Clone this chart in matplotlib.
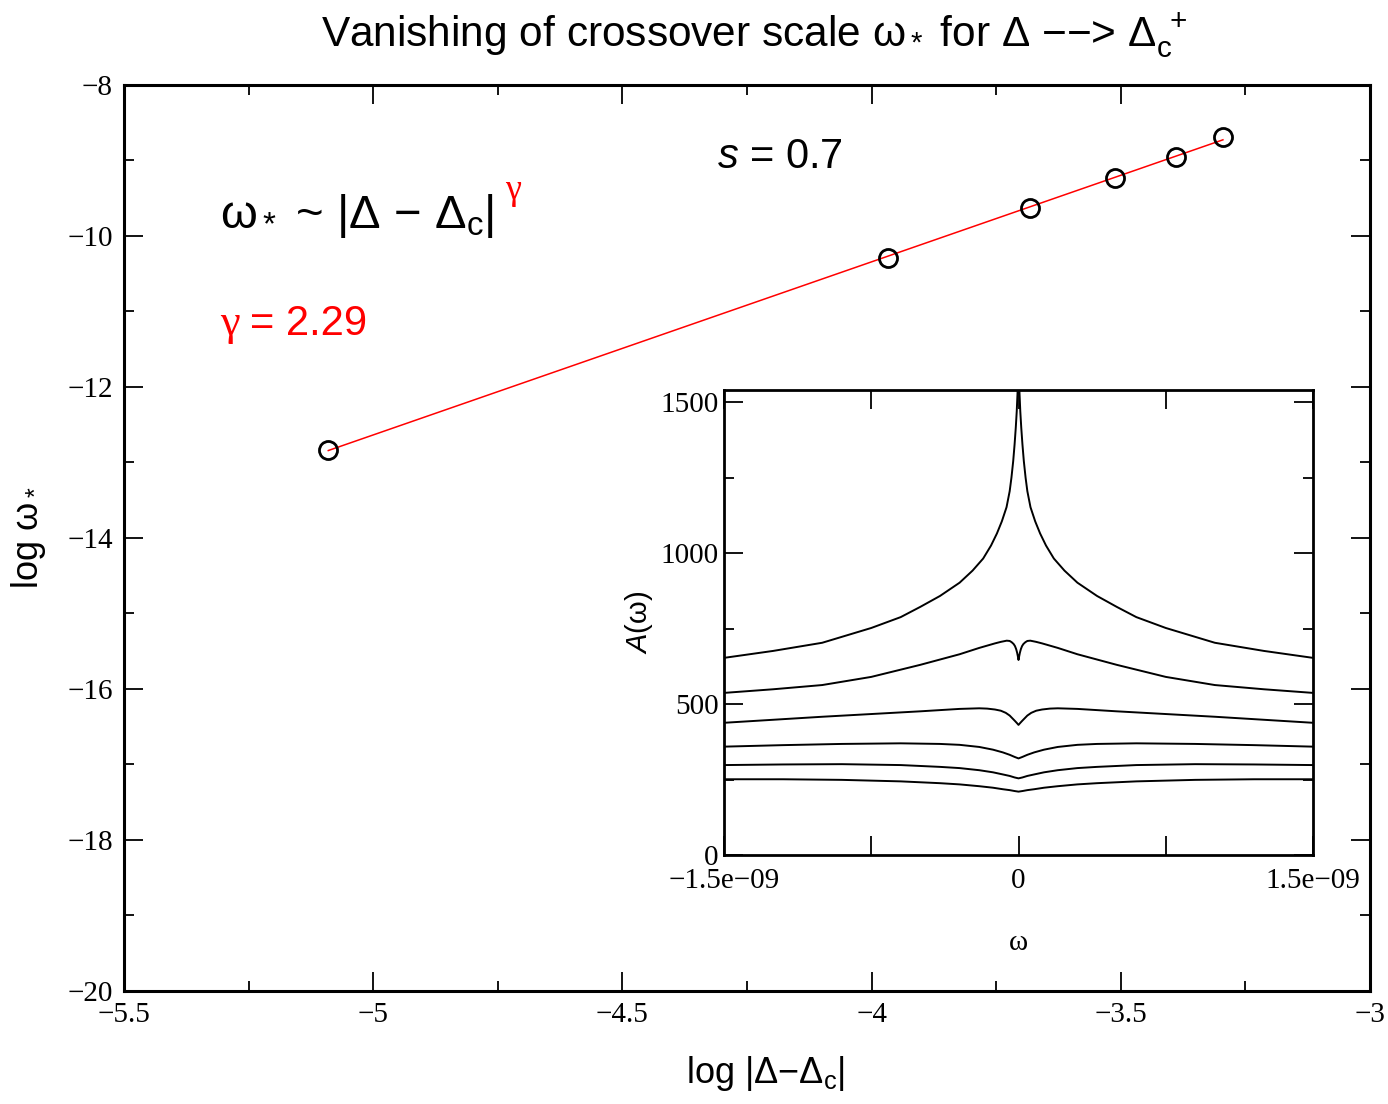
import numpy as np
import matplotlib.pyplot as plt
from matplotlib.ticker import MultipleLocator, FixedLocator

plt.rcParams['font.family'] = ['Liberation Sans', 'DejaVu Sans']
plt.rcParams['mathtext.fontset'] = 'custom'
plt.rcParams['mathtext.rm'] = 'Liberation Sans'
plt.rcParams['mathtext.it'] = 'Liberation Sans:italic'
plt.rcParams['mathtext.bf'] = 'Liberation Sans:bold'
plt.rcParams['axes.unicode_minus'] = True

# main panel: crossover scale vs distance from critical point
log_dd = [-5.09, -3.967, -3.682, -3.512, -3.389, -3.295]
log_wstar = [-12.83, -10.29, -9.63, -9.23, -8.95, -8.69]

x_ticks = [-5.5, -5, -4.5, -4, -3.5, -3]
x_ticklabels = ['\u22125.5', '\u22125', '\u22124.5', '\u22124', '\u22123.5', '\u22123']
y_ticks = [-20, -18, -16, -14, -12, -10, -8]
y_ticklabels = ['\u221220', '\u221218', '\u221216', '\u221214', '\u221212', '\u221210', '\u22128']

# inset: spectral functions A(w), left half (w in units of 1e-9), mirrored
w1 = [-1.5, -1.25, -1.0, -0.75, -0.6, -0.5, -0.4, -0.3, -0.234, -0.18, -0.14, -0.11, -0.085,
      -0.061, -0.045, -0.036, -0.027, -0.02, -0.014, -0.009, -0.005, -0.002, 0.0]
a1 = [653, 676, 703, 752, 788, 822, 858, 902, 942, 982, 1025, 1065, 1105,
      1152, 1205, 1250, 1305, 1360, 1415, 1470, 1530, 1600, 1700]
w2 = [-1.5, -1.25, -1.0, -0.75, -0.5, -0.3, -0.2, -0.12, -0.09, -0.06, -0.045, -0.035,
      -0.025, -0.018, -0.012, -0.007, -0.003, 0.0]
a2 = [537, 549, 563, 590, 630, 665, 686, 701, 706, 710, 709, 705,
      699, 692, 682, 670, 657, 646]
w3 = [-1.5, -1.25, -1.0, -0.75, -0.5, -0.3, -0.2, -0.16, -0.12, -0.09, -0.065, -0.045,
      -0.03, -0.018, -0.008, 0.0]
a3 = [438, 448, 458, 467, 476, 484, 486, 485, 482, 478, 471, 462,
      452, 444, 437, 431]
w4 = [-1.5, -1.2, -0.9, -0.6, -0.4, -0.3, -0.2, -0.13, -0.08, -0.045, -0.02, 0.0]
a4 = [359, 364, 368, 370, 368, 365, 358, 349, 340, 332, 325, 320]
w5 = [-1.5, -1.2, -0.9, -0.6, -0.4, -0.3, -0.2, -0.13, -0.08, -0.045, -0.02, 0.0]
a5 = [298, 300, 301, 298, 292, 288, 281, 274, 267, 262, 257, 254]
w6 = [-1.5, -1.2, -0.9, -0.6, -0.4, -0.3, -0.2, -0.13, -0.08, -0.045, -0.02, 0.0]
a6 = [251, 251, 249, 244, 238, 234, 228, 223, 218, 215, 212, 210]

inset_curves = [(w1, a1), (w2, a2), (w3, a3), (w4, a4), (w5, a5), (w6, a6)]

fig = plt.figure(figsize=(13.88, 11.04), dpi=100)
ax = fig.add_axes([0.0893, 0.1024, 0.8977, 0.8207])

# fit line through the points
slope, icpt = np.polyfit(log_dd, log_wstar, 1)
xf = np.array([min(log_dd), max(log_dd)])
ax.plot(xf, slope * xf + icpt, color='red', lw=1.1, zorder=2)
ax.plot(log_dd, log_wstar, 'o', ms=13, mfc='none', mec='black', mew=2.0, zorder=3)

ax.set_xlim(-5.5, -3)
ax.set_ylim(-20, -8)
ax.xaxis.set_major_locator(FixedLocator(x_ticks))
ax.set_xticklabels(x_ticklabels)
ax.yaxis.set_major_locator(FixedLocator(y_ticks))
ax.set_yticklabels(y_ticklabels)
ax.xaxis.set_minor_locator(MultipleLocator(0.25))
ax.yaxis.set_minor_locator(MultipleLocator(1))
ax.tick_params(which='both', direction='in', top=True, right=True, width=1.3,
               labelsize=21, labelfontfamily='Liberation Serif')
ax.tick_params(which='major', length=14, pad=8)
ax.tick_params(which='minor', length=7)
for sp in ax.spines.values():
    sp.set_linewidth(2.2)

ax.set_xlabel('log |\u0394\u2212\u0394$_{\\rm c}$|', fontsize=26)
ax.xaxis.set_label_coords(0.515, -0.07)
ax.set_ylabel('log \u03c9$_*$', fontsize=26, labelpad=14)

fig.text(0.543, 0.957, 'Vanishing of crossover scale \u03c9$_*$ for \u0394 \u2212\u2212> \u0394$_{\\rm c}^{\\ +}$',
         fontsize=30.5, ha='center', va='baseline')

ax.text(0.077, 0.842, '\u03c9$_*$ ~ |\u0394 \u2212 \u0394$_{\\rm c}$|', transform=ax.transAxes,
        fontsize=34, va='baseline')
ax.text(0.306, 0.874, '\u03b3', transform=ax.transAxes, color='red', fontsize=26,
        family='Liberation Serif', va='baseline')
ax.text(0.077, 0.724, '\u03b3', transform=ax.transAxes, color='red', fontsize=32,
        family='Liberation Serif', va='baseline')
ax.text(0.101, 0.724, '= 2.29', transform=ax.transAxes, color='red', fontsize=30, va='baseline')
ax.text(0.476, 0.908, '$s$ = 0.7', transform=ax.transAxes, fontsize=30, va='baseline')

# inset
axi = fig.add_axes([0.5216, 0.2255, 0.4244, 0.4212])
axi.set_facecolor('white')
for w, a in inset_curves:
    w = np.array(w) * 1e-9
    a = np.array(a, dtype=float)
    ww = np.concatenate([w, -w[::-1][1:]])
    aa = np.concatenate([a, a[::-1][1:]])
    axi.plot(ww, aa, color='black', lw=1.4)
axi.set_xlim(-1.5e-9, 1.5e-9)
axi.set_ylim(0, 1540)
axi.xaxis.set_major_locator(FixedLocator([-1.5e-9, -0.75e-9, 0, 0.75e-9, 1.5e-9]))
axi.set_xticklabels(['\u22121.5e\u221209', '', '0', '', '1.5e\u221209'])
axi.yaxis.set_major_locator(FixedLocator([0, 500, 1000, 1500]))
axi.set_yticklabels(['0', '500', '1000', '1500'])
axi.yaxis.set_minor_locator(MultipleLocator(250))
axi.tick_params(which='both', direction='in', top=True, right=True, width=1.3,
                labelsize=21, labelfontfamily='Liberation Serif')
axi.tick_params(which='major', length=14, pad=4)
axi.tick_params(axis='x', which='major', pad=9)
axi.tick_params(which='minor', length=7)
for sp in axi.spines.values():
    sp.set_linewidth(2.0)
axi.set_xlabel('\u03c9', fontsize=21, family='Liberation Serif', labelpad=26)
axi.set_ylabel('$A$(\u03c9)', fontsize=21, labelpad=4)

fig.savefig('out.png', dpi=100)
